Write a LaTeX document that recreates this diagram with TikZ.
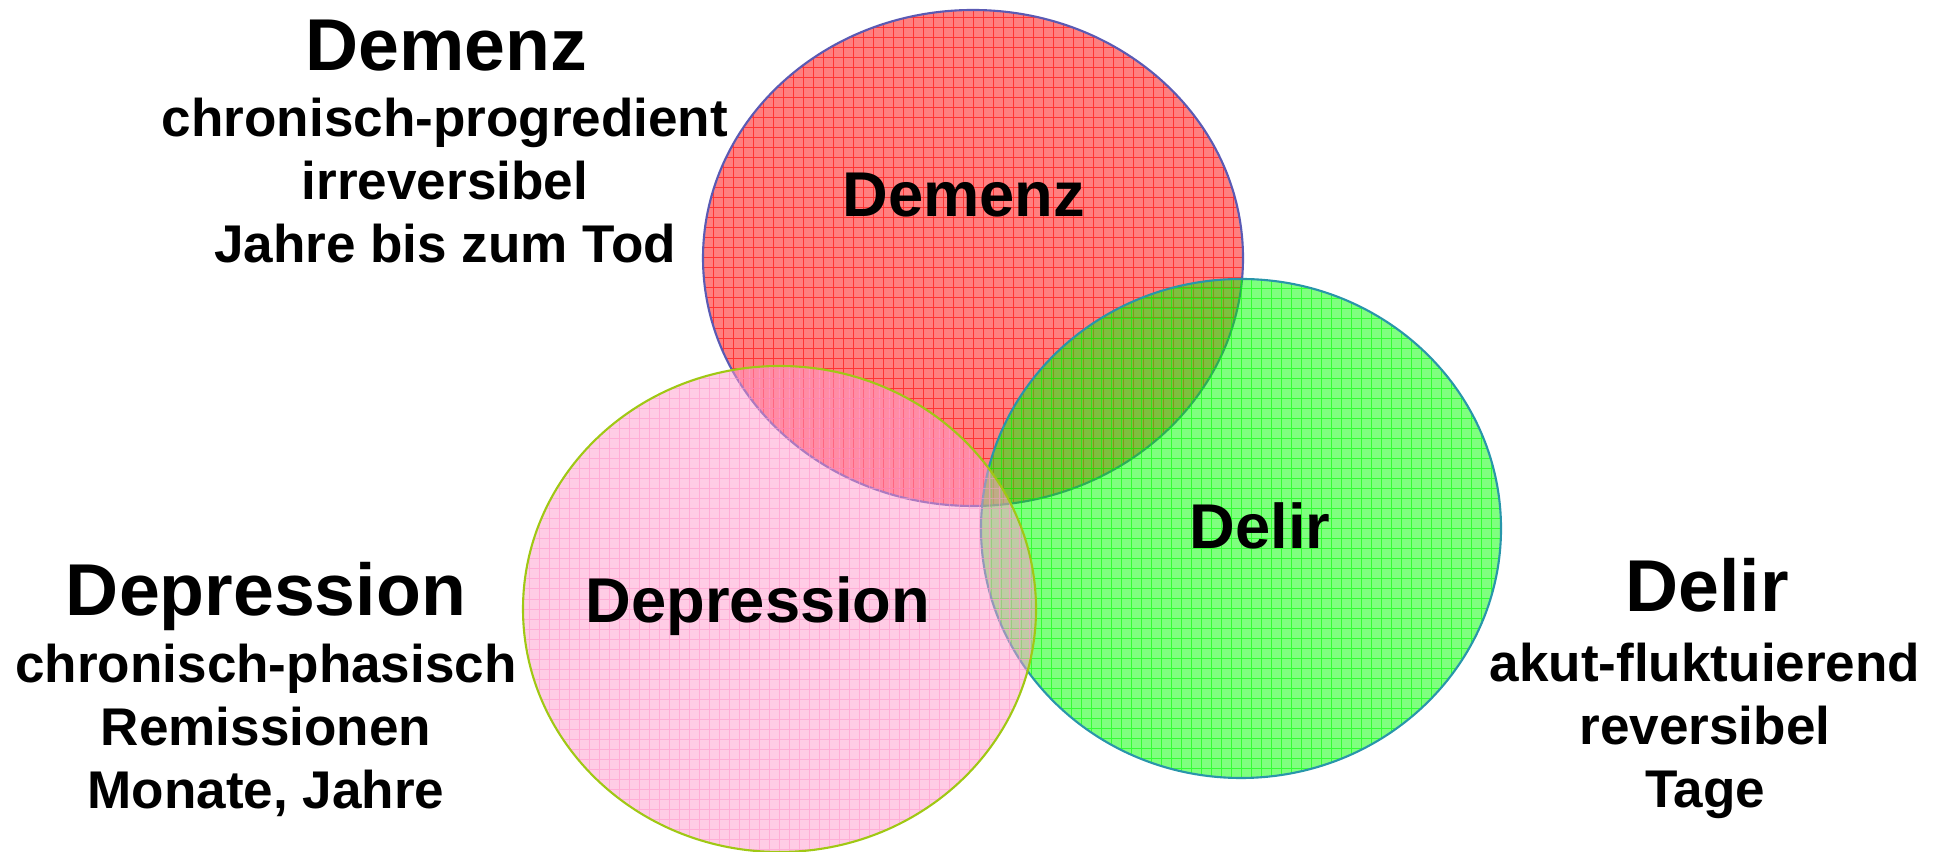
\documentclass[tikz,border=0pt]{standalone}
\usepackage{fontspec}
\setmainfont{Liberation Sans}
\usetikzlibrary{shapes.geometric}
\definecolor{demenzred}{RGB}{255,0,0}
\definecolor{delirgreen}{RGB}{0,255,0}
\definecolor{deprpink}{RGB}{255,153,204}
\definecolor{demenzline}{RGB}{90,90,180}
\definecolor{delirline}{RGB}{40,150,170}
\definecolor{deprline}{RGB}{160,200,20}

\tikzset{
  blob/.style n args={3}{ellipse, inner sep=0pt, line width=0.6pt,
    fill=#1, fill opacity=0.5, draw=#3,
    path picture={\draw[draw=#2, draw opacity=0.6, line width=0.28pt, step=0.1]
      (path picture bounding box.south west) grid (path picture bounding box.north east);}},
  titel/.style={font=\fontsize{20.9}{25}\selectfont\bfseries, anchor=base, inner sep=0pt},
  beschr/.style={font=\fontsize{15.1}{18}\selectfont\bfseries, align=center, anchor=base, inner sep=0pt},
  kreistext/.style={font=\fontsize{18}{22}\selectfont\bfseries, anchor=base, inner sep=0pt}
}

\begin{document}
\begin{tikzpicture}
  \useasboundingbox (0,0) rectangle (19.43,8.52);

  % die drei Kreise
  \node[blob={demenzred}{demenzred}{demenzline}, minimum width=5.40cm, minimum height=4.96cm] (demenzkreis) at (9.73,5.94) {};
  \node[blob={delirgreen}{delirgreen}{delirline}, minimum width=5.20cm, minimum height=4.99cm] (delirkreis) at (12.41,3.235) {};
  \node[blob={deprpink}{deprpink}{deprline}, minimum width=5.13cm, minimum height=4.86cm] (deprkreis) at (7.795,2.43) {};

  % Beschriftung in den Kreisen
  \node[kreistext] (demenzlabel) at (9.64,6.35) {Demenz};
  \node[kreistext] (delirlabel) at (12.60,3.03) {Delir};
  \node[kreistext] (deprlabel) at (7.58,2.29) {Depression};

  % Demenz (base = letzte Zeile)
  \node[titel] (demenztitel) at (4.46,7.81) {Demenz};
  \node[beschr] (demenztext) at (4.45,5.89) {chronisch-progredient\\irreversibel\\Jahre bis zum Tod};

  % Depression
  \node[titel] (deprtitel) at (2.66,2.36) {Depression};
  \node[beschr] (deprtext) at (2.66,0.43) {chronisch-phasisch\\Remissionen\\Monate, Jahre};

  % Delir
  \node[titel] (delirtitel) at (17.07,2.40) {Delir};
  \node[beschr] (delirtext) at (17.05,0.44) {akut-fluktuierend\\reversibel\\Tage};
\end{tikzpicture}
\end{document}
